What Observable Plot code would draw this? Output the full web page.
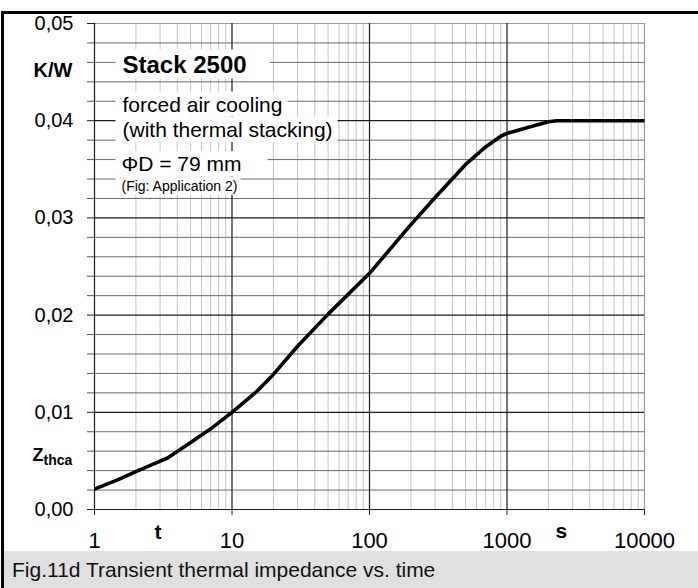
<!DOCTYPE html>
<html>
<head>
<meta charset="utf-8">
<script src="https://cdn.jsdelivr.net/npm/d3@7"></script>
<script src="https://cdn.jsdelivr.net/npm/@observablehq/plot@0.6"></script>
<style>
  html, body { margin: 0; padding: 0; background: #fff; }
  #wrap { position: relative; width: 698px; height: 588px; overflow: hidden; font-family: "Liberation Sans", Arial, sans-serif; }
  #frame { position: absolute; left: 1px; top: 11px; width: 697px; height: 577px; box-sizing: border-box; border-top: 3px solid #000; border-left: 3px solid #000; pointer-events: none; }
  #caption { position: absolute; left: 4px; top: 551px; width: 694px; height: 37px; background: #e0e0e0; font-size: 21px; line-height: 37px; padding-left: 8px; box-sizing: border-box; color: #111; white-space: nowrap; }
  #chart { position: absolute; left: 0; top: 0; }
</style>
</head>
<body>
<div id="wrap">
  <div id="chart"></div>
  <div id="caption">Fig.11d Transient thermal impedance vs. time</div>
  <div id="frame"></div>
</div>
<script>
// ---- data ----
const timeS = [1, 1.5, 2, 2.7, 3.4, 5, 7, 10, 15, 20, 30, 50, 100, 200, 300, 500, 700, 900, 1000, 1500, 2000, 2300, 10000];
const zthca = [0.0021, 0.0031, 0.0039, 0.0047, 0.0053, 0.0069, 0.0083, 0.0100, 0.0121, 0.0139, 0.0168, 0.0201, 0.0243, 0.0293, 0.0321, 0.0355, 0.0373, 0.0384, 0.0387, 0.0394, 0.0399, 0.0400, 0.0400];

const xTicks = [1, 10, 100, 1000, 10000];
const xTickLabels = ["1", "10", "100", "1000", "10000"];
const yTicks = [0, 0.01, 0.02, 0.03, 0.04, 0.05];
const yTickLabels = ["0,00", "0,01", "0,02", "0,03", "0,04", "0,05"];

const annotationLines = ["Stack 2500", "forced air cooling", "(with thermal stacking)", "\u03A6D = 79 mm", "(Fig: Application 2)"];

// ---- derived tables ----
const curve = timeS.map((t, i) => ({t, z: zthca[i]}));
const xLabelMap = new Map(xTicks.map((v, i) => [v, xTickLabels[i]]));
const yLabelMap = new Map(yTicks.map((v, i) => [v, yTickLabels[i]]));
const xMinor = [];
for (const d of xTicks.slice(0, -1)) for (let k = 2; k <= 9; k++) xMinor.push(d * k);
const yMinor = d3.range(0, 51, 2).map(v => v / 1000).filter(v => !yTicks.some(m => Math.abs(m - v) < 1e-9));

const font = "Liberation Sans, Arial, sans-serif";
const ann = (txt, dx, dy, size, weight) =>
  Plot.text([txt], {text: d => d, frameAnchor: "top-left", dx, dy, textAnchor: "start", lineAnchor: "bottom",
    fontSize: size, fontWeight: weight, fill: "#000", fontFamily: font});

const chart = Plot.plot({
  width: 698,
  height: 551,
  marginLeft: 94,
  marginRight: 54,
  marginTop: 23,
  marginBottom: 42,
  style: {fontFamily: font, background: "transparent", overflow: "visible", color: "#000"},
  x: {type: "log", domain: [1, 10000]},
  y: {domain: [0, 0.05]},
  marks: [
    Plot.gridX(xMinor, {stroke: "#c4c4c4", strokeOpacity: 1, strokeWidth: 1}),
    Plot.gridY(yMinor, {stroke: "#6a6a6a", strokeOpacity: 1, strokeWidth: 1}),
    Plot.gridY(yTicks.slice(0, -1), {stroke: "#1a1a1a", strokeOpacity: 1, strokeWidth: 1.2}),
    Plot.gridY(yTicks.slice(-1), {stroke: "#999", strokeOpacity: 1, strokeWidth: 1.2}),
    Plot.gridX(xTicks.slice(0, -1), {stroke: "#1a1a1a", strokeOpacity: 1, strokeWidth: 1.2}),
    Plot.gridX(xTicks.slice(-1), {stroke: "#999", strokeOpacity: 1, strokeWidth: 1.2}),
    Plot.axisY(yMinor, {tickSize: 7, tickFormat: () => "", stroke: "#555", label: null}),
    Plot.axisY(yTicks, {tickSize: 7, tickPadding: 14, tickFormat: d => yLabelMap.get(d), fontSize: 20, stroke: "#222", fill: "#000", label: null}),
    Plot.axisX(xTicks, {tickSize: 6, tickPadding: 17, tickFormat: d => xLabelMap.get(d), fontSize: 22, stroke: "#222", fill: "#000", label: null}),
    // annotation block
    ann(annotationLines[0], 28, 49, 24, "bold"),
    ann(annotationLines[1], 28, 88, 21, "normal"),
    ann(annotationLines[2], 28, 113.5, 21, "normal"),
    ann(annotationLines[3], 27, 147.5, 21, "normal"),
    ann(annotationLines[4], 27, 167, 14, "normal"),
    // axis titles
    ann("K/W", -61, 53, 20, "bold"),
    ann("Z", -62, 437, 18, "bold"),
    ann("thca", -51, 441, 14, "bold"),
    ann("t", 60, 515, 21, "bold"),
    ann("s", 461, 514, 21, "bold"),
    // curve
    Plot.line(curve, {x: "t", y: "z", stroke: "#000", strokeWidth: 3.6, strokeLinejoin: "round", strokeLinecap: "butt"})
  ]
});

document.getElementById("chart").appendChild(chart);

// white boxes behind the annotation lines (sized from the rendered text)
const pads = [[7, 23], [7, 5], [7, 5], [6, 26], [6, 3]];
const texts = Array.from(chart.querySelectorAll("text"));
annotationLines.forEach((line, i) => {
  const node = texts.find(t => t.textContent === line);
  if (!node) return;
  const bb = node.getBBox();
  const m = node.getCTM();
  const rect = document.createElementNS("http://www.w3.org/2000/svg", "rect");
  const x0 = bb.x * m.a + m.e, y0 = bb.y * m.d + m.f;
  rect.setAttribute("x", x0 - pads[i][0]);
  rect.setAttribute("y", y0 - 1);
  rect.setAttribute("width", bb.width + pads[i][0] + pads[i][1]);
  rect.setAttribute("height", bb.height + 2);
  rect.setAttribute("fill", "#fff");
  // place the white box just before the annotation's mark group, in root coordinates
  let g = node;
  while (g.parentNode && g.parentNode !== chart) g = g.parentNode;
  chart.insertBefore(rect, g);
});
</script>
</body>
</html>
